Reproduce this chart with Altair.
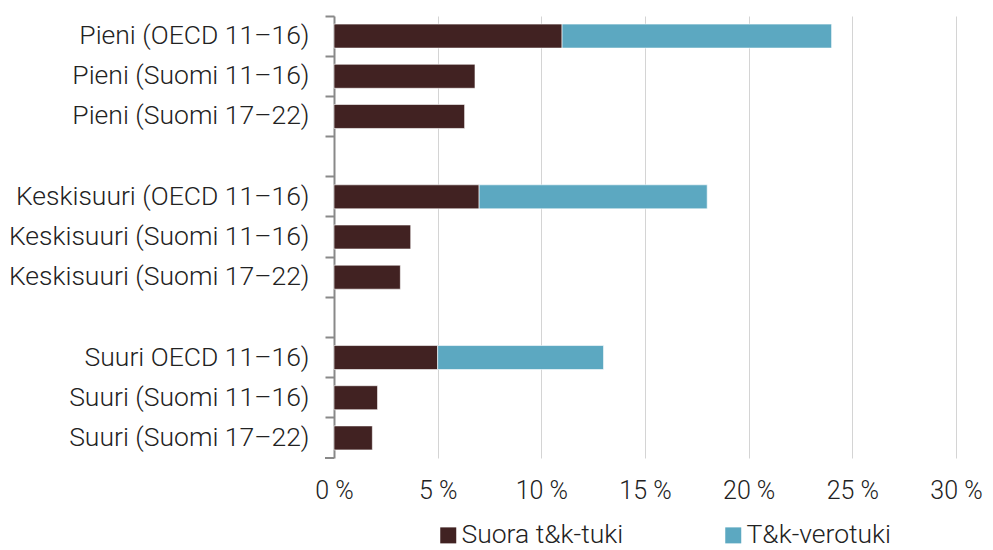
import altair as alt
import pandas as pd

categories = [
    "Pieni (OECD 11–16)", "Pieni (Suomi 11–16)", "Pieni (Suomi 17–22)", " ",
    "Keskisuuri (OECD 11–16)", "Keskisuuri (Suomi 11–16)", "Keskisuuri (Suomi 17–22)", "  ",
    "Suuri OECD 11–16)", "Suuri (Suomi 11–16)", "Suuri (Suomi 17–22)",
]
suora = [11.0, 6.8, 6.3, None, 7.0, 3.7, 3.2, None, 5.0, 2.1, 1.85]
vero = [13.0, 0.0, 0.0, None, 11.0, 0.0, 0.0, None, 8.0, 0.0, 0.0]
series = ["Suora t&k-tuki", "T&k-verotuki"]
colors = ["#412222", "#5ca8c1"]
x_ticks = [0, 5, 10, 15, 20, 25, 30]

rows = []
for c, s, v in zip(categories, suora, vero):
    if s:
        rows.append({"cat": c, "series": series[0], "value": s, "ord": 0})
    if v:
        rows.append({"cat": c, "series": series[1], "value": v, "ord": 1})
df = pd.DataFrame(rows)

FONT = "Roboto"
TXT = "#222222"
W, H = 622, 442

bars = alt.Chart(df).mark_bar(size=24, stroke="#ffffff", strokeWidth=0.6).encode(
    x=alt.X("sum(value):Q", stack="zero",
            scale=alt.Scale(domain=[0, 30], nice=False),
            axis=alt.Axis(values=x_ticks, title=None, domain=False, ticks=False,
                          grid=True, gridColor="#d4d4d4", gridWidth=1,
                          labelExpr="datum.value + ' %'", labelFont=FONT,
                          labelFontWeight=300, labelFontSize=25, labelColor=TXT,
                          labelPadding=20, labelFlush=False, labelOverlap=False)),
    y=alt.Y("cat:N", sort=categories,
            scale=alt.Scale(domain=categories, paddingInner=0, paddingOuter=0),
            axis=alt.Axis(title=None, bandPosition=0, domainColor="#898989",
                          domainWidth=2, tickColor="#898989", tickWidth=2,
                          tickSize=9, labelFont=FONT, labelFontWeight=300,
                          labelFontSize=26.5, labelColor=TXT, labelPadding=16,
                          labelLimit=400, grid=False)),
    color=alt.Color("series:N", scale=alt.Scale(domain=series, range=colors),
                    legend=alt.Legend(title=None, orient="none", direction="horizontal",
                                      legendX=101, legendY=506, symbolType="square",
                                      symbolSize=256, symbolStrokeWidth=0,
                                      labelFont=FONT, labelFontWeight=300,
                                      labelFontSize=26.5, labelColor=TXT,
                                      columnPadding=96, labelOffset=0,
                                      labelLimit=400, padding=0)),
    order=alt.Order("ord:Q"),
)

bottom_tick = alt.Chart(pd.DataFrame({"a": [0]})).mark_rule(
    color="#898989", strokeWidth=2
).encode(x=alt.value(-9), x2=alt.value(0), y=alt.value(H))

chart = alt.layer(bars, bottom_tick).properties(
    width=W, height=H,
    padding={"left": 0, "top": 7, "right": 0, "bottom": 0},
).configure_view(stroke=None)

chart.save("out.html", embed_options={"renderer": "svg", "actions": False})
